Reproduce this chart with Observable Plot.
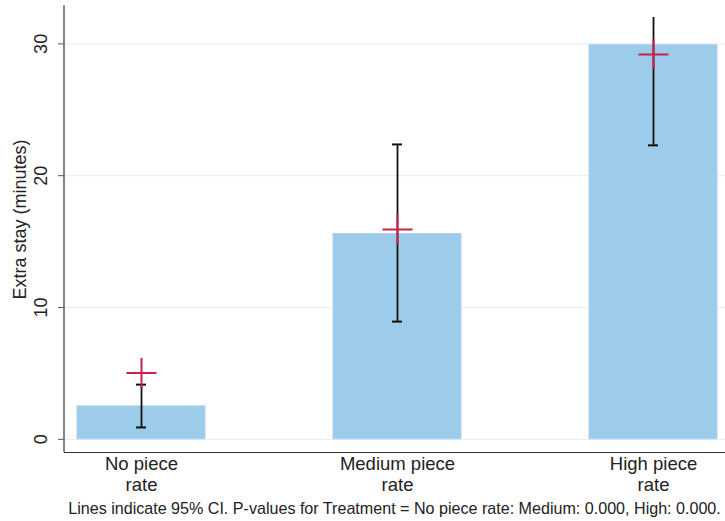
<!DOCTYPE html>
<html>
<head>
<meta charset="utf-8">
<script src="https://cdn.jsdelivr.net/npm/d3@7"></script>
<script src="https://cdn.jsdelivr.net/npm/@observablehq/plot@0.6"></script>
<style>
  html, body { margin: 0; padding: 0; background: #fff; }
  #chart svg { display: block; }
  #caption {
    width: 725px; box-sizing: border-box; padding-left: 64px;
    text-align: center; font-family: "Liberation Sans", Arial, sans-serif;
    font-size: 16.1px; line-height: 22px; color: #222; white-space: nowrap;
  }
</style>
</head>
<body>
<div id="chart"></div>
<div id="caption">Lines indicate 95% CI. P-values for Treatment = No piece rate: Medium: 0.000, High: 0.000.</div>
<script>
const categories = ["No piece rate", "Medium piece rate", "High piece rate"];
const means = [2.5, 15.58, 29.9];
const ciLow = [0.9, 8.93, 22.3];
const ciHigh = [4.15, 22.37, 37.5];
const markerValues = [5.03, 15.91, 29.19];
const yTicks = [0, 10, 20, 30];
const yTitle = "Extra stay (minutes)";

const data = categories.map((c, i) => ({cat: c, mean: means[i], lo: ciLow[i], hi: ciHigh[i], mark: markerValues[i]}));

const plusSymbol = {
  draw(ctx, size) {
    const h = Math.sqrt(size / Math.PI);
    ctx.moveTo(-h, 0); ctx.lineTo(h, 0);
    ctx.moveTo(0, -h); ctx.lineTo(0, h);
  }
};

const font = "'Liberation Sans', Arial, sans-serif";

const chart = Plot.plot({
  width: 725,
  height: 497,
  marginLeft: 64,
  marginRight: 0,
  marginTop: 17,
  marginBottom: 45,
  style: {fontFamily: font, background: "white", color: "#222"},
  x: {domain: categories, range: [76, 718], paddingInner: 0.5, paddingOuter: 0},
  y: {domain: [-1, 32]},
  marks: [
    Plot.ruleY(yTicks, {stroke: "#e4eef0", strokeWidth: 1}),
    Plot.barY(data, {x: "cat", y1: 0, y2: "mean", fill: "#9dcbea", stroke: "#aad4f0", strokeWidth: 1}),
    Plot.ruleX(data, {x: "cat", y1: "lo", y2: "hi", stroke: "#111", strokeWidth: 1.8, clip: true}),
    Plot.tickY(data, {x: "cat", y: "lo", insetLeft: 59, insetRight: 59, stroke: "#111", strokeWidth: 2, clip: true}),
    Plot.tickY(data, {x: "cat", y: "hi", insetLeft: 59, insetRight: 59, stroke: "#111", strokeWidth: 2, clip: true}),
    Plot.dot(data, {x: "cat", y: "mark", symbol: plusSymbol, r: 15, fill: "none", stroke: "#cf1f4f", strokeWidth: 2}),
    Plot.ruleY([-1], {stroke: "#333", strokeWidth: 1}),
    Plot.axisY({ticks: yTicks, tickSize: 6, tickFormat: () => "", stroke: "#555", label: null}),
    Plot.text(yTicks, {y: d => d, frameAnchor: "left", rotate: -90, dx: -23.5, fontSize: 18,
      textAnchor: "middle", lineAnchor: "middle", fill: "#222"}),
    Plot.axisX({tickSize: 0, tickPadding: 2, fontSize: 18.5, lineHeight: 1.15, label: null,
      tickFormat: d => d.replace(/ rate$/, "\nrate")}),
    Plot.text([yTitle], {frameAnchor: "left", rotate: -90, dx: -44.5, dy: -15.5, fontSize: 18,
      textAnchor: "middle", lineAnchor: "middle", fill: "#222"})
  ]
});

// y axis line, positioned with the plot's own y scale
const ys = chart.scale("y");
d3.select(chart).append("line")
  .attr("x1", 64).attr("x2", 64)
  .attr("y1", ys.apply(-1)).attr("y2", ys.apply(32.9))
  .attr("stroke", "#666").attr("stroke-width", 1.6);

document.getElementById("chart").appendChild(chart);
</script>
</body>
</html>
